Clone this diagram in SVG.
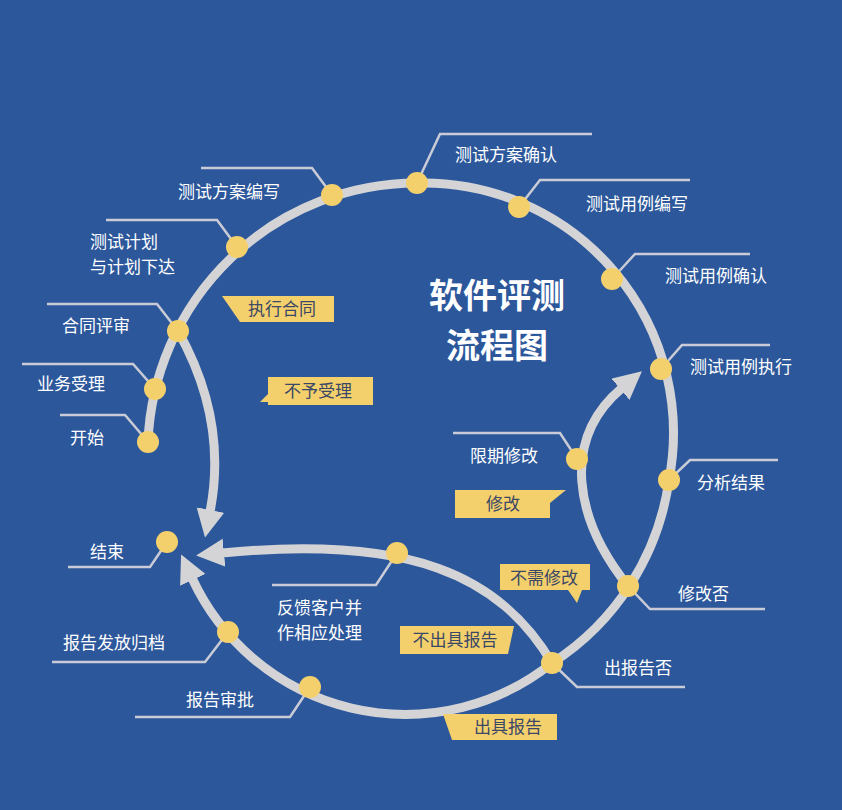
<svg xmlns="http://www.w3.org/2000/svg" width="842" height="810" viewBox="0 0 842 810">
<defs>
<marker id="ah" markerUnits="userSpaceOnUse" markerWidth="34" markerHeight="34" refX="2" refY="14" orient="auto"><path d="M0,0 L28,14 L0,28 Z" fill="#d4d4d6"/></marker>
<style>
.flow{fill:none;stroke:#d4d4d6;stroke-width:9}
.lead{fill:none;stroke:#c9ccd6;stroke-width:2.5}
.dot{fill:#f4d06c}
.t{font-family:"Noto Sans CJK SC",sans-serif;font-size:17px;fill:#ffffff}
.tag{fill:#f4d06c}
.tt{font-family:"Noto Sans CJK SC",sans-serif;font-size:17px;fill:#3b4766;text-anchor:middle}
.title{font-family:"Noto Sans CJK SC",sans-serif;font-size:34px;fill:#ffffff;text-anchor:middle;font-weight:bold}
</style>
</defs>
<rect width="842" height="810" fill="#2c579b"/>
<g id="connectors">
<path class="flow" d="M148,442 A270,270 0 0 1 417,183 A250,250 0 0 1 669,480 A260,260 0 0 1 552,663"/>
<path class="flow" d="M552,663 A235,235 0 0 1 192,578" marker-end="url(#ah)"/>
<path class="flow" d="M178,331 Q228,420 210,512" marker-end="url(#ah)"/>
<path class="flow" d="M552,663 C500,575 410,535 222,553" marker-end="url(#ah)"/>
<path class="flow" d="M628,586 C575,520 560,440 622,388" marker-end="url(#ah)"/>
<g class="lead">
<path d="M148,442 L125,415 H60"/>
<path d="M155,389 L133,364 H22"/>
<path d="M178,331 L157,304 H47"/>
<path d="M237,247 L217,220 H106"/>
<path d="M332,195 L312,168 H201"/>
<path d="M417,183 L440,134 H592"/>
<path d="M519,207 L540,180 H690"/>
<path d="M612,279 L635,254 H750"/>
<path d="M661,369 L682,345 H770"/>
<path d="M669,480 L690,460 H778"/>
<path d="M628,586 L650,609 H765"/>
<path d="M552,663 L577,687 H685"/>
<path d="M310,687 L290,717 H135"/>
<path d="M228,632 L205,662 H52"/>
<path d="M167,542 L150,567 H68"/>
<path d="M397,553 L376,585 H272"/>
<path d="M577,459 L560,433 H453"/>
</g>
</g>
<g id="title"><text class="title" x="497" y="308">软件评测</text><text class="title" x="497" y="358">流程图</text></g>
<g id="n-start"><circle class="dot" cx="148" cy="442" r="11"/><text class="t" x="70" y="444">开始</text></g>
<g id="n-accept"><circle class="dot" cx="155" cy="389" r="11"/><text class="t" x="37" y="390">业务受理</text></g>
<g id="n-review"><circle class="dot" cx="178" cy="331" r="11"/><text class="t" x="62" y="332">合同评审</text></g>
<g id="n-plan"><circle class="dot" cx="237" cy="247" r="11"/><text class="t" x="90" y="248">测试计划</text><text class="t" x="90" y="273">与计划下达</text></g>
<g id="n-scheme"><circle class="dot" cx="332" cy="195" r="11"/><text class="t" x="178" y="198">测试方案编写</text></g>
<g id="n-confirm"><circle class="dot" cx="417" cy="183" r="11"/><text class="t" x="455" y="161">测试方案确认</text></g>
<g id="n-case"><circle class="dot" cx="519" cy="207" r="11"/><text class="t" x="586" y="210">测试用例编写</text></g>
<g id="n-caseok"><circle class="dot" cx="612" cy="279" r="11"/><text class="t" x="665" y="282">测试用例确认</text></g>
<g id="n-exec"><circle class="dot" cx="661" cy="369" r="11"/><text class="t" x="690" y="373">测试用例执行</text></g>
<g id="n-analysis"><circle class="dot" cx="669" cy="480" r="11"/><text class="t" x="697" y="489">分析结果</text></g>
<g id="n-modq"><circle class="dot" cx="628" cy="586" r="11"/><text class="t" x="678" y="600">修改否</text></g>
<g id="n-repq"><circle class="dot" cx="552" cy="663" r="11"/><text class="t" x="604" y="674">出报告否</text></g>
<g id="n-approve"><circle class="dot" cx="310" cy="687" r="11"/><text class="t" x="186" y="706">报告审批</text></g>
<g id="n-archive"><circle class="dot" cx="228" cy="632" r="11"/><text class="t" x="63" y="649">报告发放归档</text></g>
<g id="n-end"><circle class="dot" cx="167" cy="542" r="11"/><text class="t" x="90" y="558">结束</text></g>
<g id="n-feedback"><circle class="dot" cx="397" cy="553" r="11"/><text class="t" x="277" y="614">反馈客户并</text><text class="t" x="277" y="639">作相应处理</text></g>
<g id="n-fix"><circle class="dot" cx="577" cy="459" r="11"/><text class="t" x="470" y="462">限期修改</text></g>
<g id="tags">
<path class="tag" d="M222,296 H334 V322 H240 Z"/><text class="tt" x="282" y="315">执行合同</text>
<path class="tag" d="M268,377 H373 V405 H268 V402 H260 L268,394 Z"/><text class="tt" x="318" y="397">不予受理</text>
<path class="tag" d="M455,490 H566 L550,503 V518 H455 Z"/><text class="tt" x="503" y="510">修改</text>
<path class="tag" d="M500,564 H590 V590 H582 L577,603 L568,590 H500 Z"/><text class="tt" x="544" y="584">不需修改</text>
<path class="tag" d="M400,626 H514 L508,654 H400 Z"/><text class="tt" x="455" y="646">不出具报告</text>
<path class="tag" d="M443,714 H557 V740 H452 Z"/><text class="tt" x="508" y="733">出具报告</text>
</g>
</svg>
